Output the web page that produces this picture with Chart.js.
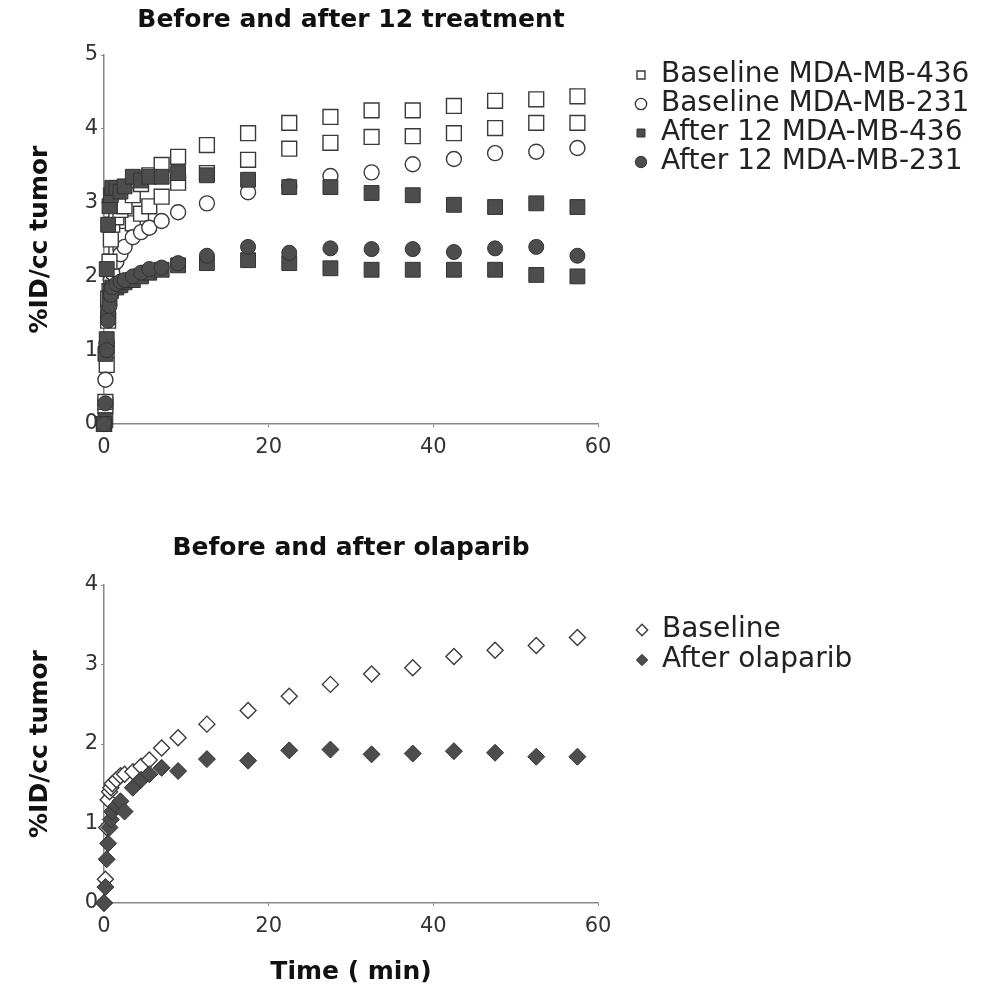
<!DOCTYPE html>
<html>
<head>
<meta charset="utf-8">
<script src="https://cdn.jsdelivr.net/npm/chart.js@4.4.1/dist/chart.umd.min.js"></script>
<style>
  body { margin: 0; background: #fff; }
  canvas { position: absolute; left: 0; }
  #top { top: 0; }
  #bottom { top: 480px; }
</style>
</head>
<body>
<canvas id="top" width="997" height="480"></canvas>
<canvas id="bottom" width="997" height="524"></canvas>
<script>
// sampling times (min), shared by both panels
const minutes = [0, 0.17, 0.33, 0.5, 0.67, 0.83, 1, 1.5, 2, 2.5, 3.5, 4.5, 5.5, 7, 9,
  12.5, 17.5, 22.5, 27.5, 32.5, 37.5, 42.5, 47.5, 52.5, 57.5];

// top panel: before and after 12 treatment
const baseline436 = [0, 0.3, 1.0, 1.7, 2.2, 2.5, 2.7, 2.8, 2.9, 2.95, 3.1, 3.25, 3.37, 3.51, 3.62,
  3.78, 3.94, 4.08, 4.16, 4.25, 4.25, 4.31, 4.38, 4.40, 4.44];
const baseline436b = [0, 0.25, 0.8, 1.4, 1.8, 2.05, 2.2, 2.35, 2.45, 2.55, 2.72, 2.85, 2.95, 3.08, 3.27,
  3.4, 3.58, 3.73, 3.81, 3.89, 3.90, 3.94, 4.01, 4.08, 4.08];
const baseline231 = [0, 0.6, 1.1, 1.5, 1.75, 1.95, 2.05, 2.2, 2.3, 2.4, 2.53, 2.6, 2.66, 2.75, 2.87,
  2.99, 3.14, 3.22, 3.36, 3.41, 3.52, 3.59, 3.67, 3.69, 3.74];
const after436 = [0, 0.95, 2.1, 2.7, 2.95, 3.1, 3.2, 3.2, 3.15, 3.22, 3.35, 3.3, 3.35, 3.35, 3.4,
  3.37, 3.31, 3.21, 3.21, 3.13, 3.10, 2.97, 2.94, 2.99, 2.94];
const after436b = [0, 0.05, 1.15, 1.5, 1.7, 1.8, 1.85, 1.85, 1.88, 1.92, 1.95, 2.0, 2.05, 2.09, 2.15,
  2.18, 2.22, 2.18, 2.11, 2.09, 2.09, 2.09, 2.09, 2.02, 2.00];
const after231 = [0, 0.28, 1.0, 1.4, 1.6, 1.75, 1.85, 1.9, 1.93, 1.95, 2.0, 2.05, 2.1, 2.12, 2.18,
  2.28, 2.40, 2.32, 2.38, 2.37, 2.37, 2.33, 2.38, 2.40, 2.28];

// bottom panel: before and after olaparib
const baselineOla = [0, 0.3, 0.95, 1.3, 1.4, 1.45, 1.5, 1.55, 1.6, 1.62, 1.65, 1.72, 1.8, 1.95, 2.08,
  2.25, 2.42, 2.6, 2.75, 2.88, 2.96, 3.1, 3.18, 3.24, 3.34];
const afterOla = [0, 0.2, 0.55, 0.75, 0.95, 1.05, 1.15, 1.22, 1.28, 1.15, 1.45, 1.55, 1.62, 1.7, 1.66,
  1.81, 1.79, 1.92, 1.93, 1.87, 1.88, 1.91, 1.89, 1.84, 1.84];

const xTicks = { min: 0, max: 60, step: 20 };

const FONT = "'DejaVu Sans', sans-serif";
Chart.defaults.font.family = FONT;
Chart.defaults.color = '#333';

const OPEN = { backgroundColor: '#fff', borderColor: '#3a3a3a', borderWidth: 1.4 };
const FILLED = { backgroundColor: '#4d4d4d', borderColor: '#333', borderWidth: 1 };

const points = ys => minutes.map((x, i) => ({ x, y: ys[i] }));

function series(label, ys, style, shape, radius, order, legendHidden) {
  return {
    label, data: points(ys), ...style, pointStyle: shape, pointRadius: radius,
    pointHoverRadius: radius, order, clip: false, legendHidden: !!legendHidden
  };
}

// keep the legend a fixed width so the plot ends at x = 60 like the original
const legendWidth = {
  id: 'legendWidth',
  afterInit(chart) {
    const legend = chart.legend;
    const fit = legend.fit;
    legend.fit = function () { fit.call(this); this.width = 363; };
  }
};

function axisStyle() {
  return {
    grid: { drawOnChartArea: false, tickLength: 3, color: '#888' },
    border: { color: '#888', width: 1.5, dash: [1.5, 2] },
  };
}

function makeChart(canvasId, cfg) {
  return new Chart(document.getElementById(canvasId), {
    type: 'scatter',
    data: { datasets: cfg.datasets },
    plugins: [legendWidth],
    options: {
      responsive: false,
      animation: false,
      layout: { padding: 0 },
      plugins: {
        title: {
          display: true, text: cfg.title, fullSize: false, color: '#111',
          font: { size: 25, weight: 'bold' },
          padding: cfg.titlePadding
        },
        legend: {
          position: 'right', align: 'start', fullSize: false,
          title: { display: true, text: '', font: { size: 1 }, padding: { top: cfg.legendOffset, bottom: 0 } },
          labels: {
            usePointStyle: true, boxWidth: 12, boxHeight: 8, padding: cfg.legendGap,
            color: '#222', font: { size: 28 },
            filter: (item, data) => !data.datasets[item.datasetIndex].legendHidden,
            sort: (a, b) => a.datasetIndex - b.datasetIndex
          }
        },
        tooltip: { enabled: false }
      },
      scales: {
        x: {
          type: 'linear', min: xTicks.min, max: xTicks.max,
          ticks: { stepSize: xTicks.step, padding: 8, font: { size: 21 } },
          ...axisStyle(),
          title: cfg.xTitle,
          afterFit(s) { s.height = cfg.xHeight; }
        },
        y: {
          min: 0, max: cfg.yMax,
          ticks: { stepSize: 1, padding: 3, font: { size: 21 } },
          ...axisStyle(),
          title: {
            display: true, text: '%ID/cc tumor', color: '#111',
            font: { size: 25, weight: 'bold' }, padding: { top: 25, bottom: 0 }
          },
          afterFit(s) { s.width = 104; }
        },
        gap: {
          position: 'right', display: true,
          grid: { display: false }, border: { display: false }, ticks: { display: false },
          afterFit(s) { s.width = 36; }
        }
      }
    }
  });
}

makeChart('top', {
  title: 'Before and after 12 treatment',
  titlePadding: { top: 5, bottom: 20 },
  legendOffset: 3.8, legendGap: 1,
  yMax: 5, xHeight: 56,
  xTitle: { display: false },
  datasets: [
    series('Baseline MDA-MB-436', baseline436, OPEN, 'rect', 10.5, 3),
    series('Baseline MDA-MB-231', baseline231, OPEN, 'circle', 7.5, 3),
    series('After 12 MDA-MB-436', after436, FILLED, 'rect', 10.5, 2),
    series('After 12 MDA-MB-231', after231, FILLED, 'circle', 7.5, 1),
    series('Baseline MDA-MB-436', baseline436b, OPEN, 'rect', 10.5, 3, true),
    series('After 12 MDA-MB-436', after436b, FILLED, 'rect', 10.5, 2, true)
  ]
});

makeChart('bottom', {
  title: 'Before and after olaparib',
  titlePadding: { top: 53, bottom: 22 },
  legendOffset: 27.8, legendGap: 2,
  yMax: 4, xHeight: 101,
  xTitle: {
    display: true, text: 'Time ( min)', color: '#111',
    font: { size: 25, weight: 'bold' }, padding: { top: 0, bottom: 17 }
  },
  datasets: [
    series('Baseline', baselineOla, OPEN, 'rectRot', 8, 2),
    series('After olaparib', afterOla, FILLED, 'rectRot', 8.5, 1)
  ]
});
</script>
</body>
</html>
